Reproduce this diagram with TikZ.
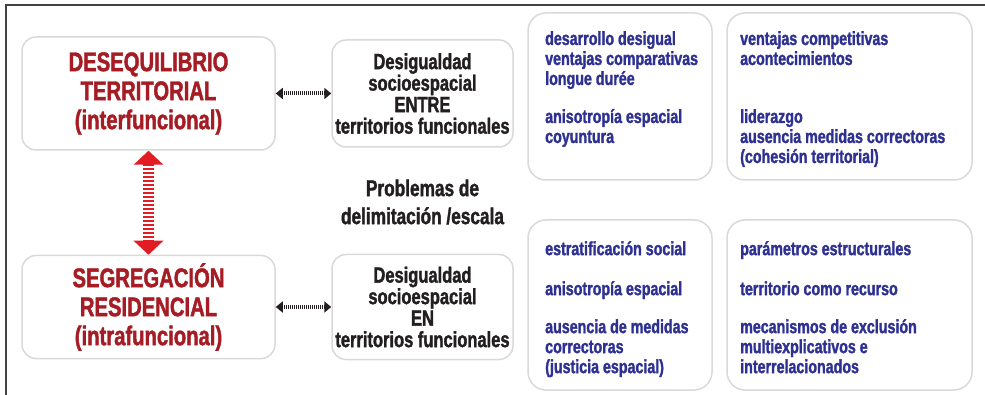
\documentclass[tikz,border=0pt]{standalone}
\usepackage{fontspec}
\setmainfont{Liberation Sans}
\newfontfamily\condbold{Liberation Sans Bold}[FakeStretch=0.75, FakeBold=1.5]
\usetikzlibrary{arrows.meta}
\definecolor{boxgrey}{HTML}{D9D9D9}
\definecolor{darkred}{HTML}{A51C24}
\definecolor{brightred}{HTML}{E31B23}
\definecolor{navy}{HTML}{2E3192}
\definecolor{inkblack}{HTML}{231F20}

\begin{document}
\begin{tikzpicture} [x=1pt, y=-1pt,
            box/.style={draw=boxgrey, line width=1.5pt, rounded corners=14pt, fill=white},
            bigbox/.style={box, minimum width=253pt, align=center, text=darkred,
              font=\condbold\fontsize{27}{29}\selectfont},
            midbox/.style={box, minimum width=181pt, align=center, text=inkblack,
              font=\condbold\fontsize{22}{21.5}\selectfont},
            listbox/.style={box, rounded corners=18pt},
            listtext/.style={anchor=north west, inner sep=0pt, align=left, text=navy,
              font=\condbold\fontsize{19}{20}\selectfont},
            linkarrow/.style={{Triangle[length=7pt,width=11pt]}-{Triangle[length=7pt,width=11pt]},
              line width=4pt, dash pattern=on 1pt off 1pt, draw=inkblack},
            scalearrow/.style={{Triangle[length=14pt,width=29pt]}-{Triangle[length=14pt,width=29pt]},
              line width=11pt, dash pattern=on 2pt off 2pt, draw=brightred}]
            \useasboundingbox (0,0) rectangle (985,395);
            \draw[line width=1.2pt, draw=inkblack!85] (985,5) -- (6,5) -- (6,395);
            % left column
            \node[bigbox, minimum height=113pt] (deseq) at (148.5,93.5) {DESEQUILIBRIO\\TERRITORIAL\\(interfuncional)};
            \node[bigbox, minimum height=103pt] (segreg) at (148.5,307) {SEGREGACIÓN\\RESIDENCIAL\\(intrafuncional)};
            % middle column
            \node[midbox, minimum height=107pt] (entre) at (422.5,93.5) {Desigualdad\\socioespacial\\ENTRE\\territorios funcionales};
            \node[midbox, minimum height=105pt] (en) at (422.5,307) {Desigualdad\\socioespacial\\EN\\territorios funcionales};
            \node[align=center, text=inkblack, font=\condbold\fontsize{23}{28}\selectfont] (escala) at (422.5,202) {Problemas de\\delimitación /escala};
            % right column
            \node[listbox, minimum width=184pt, minimum height=167pt] (ebox) at (620,96.5) {};
            \node[listbox, minimum width=245pt, minimum height=167pt] (fbox) at (849.5,96.5) {};
            \node[listbox, minimum width=184pt, minimum height=170pt] (gbox) at (620,305) {};
            \node[listbox, minimum width=245pt, minimum height=170pt] (hbox) at (849.5,305) {};
            \node[listtext] (etxt) at (545,31) {desarrollo desigual\\ventajas comparativas\\longue durée\\[18pt]anisotropía espacial\\coyuntura};
            \node[listtext] (ftxt) at (740,31) {ventajas competitivas\\acontecimientos\\[38pt]liderazgo\\ausencia medidas correctoras\\(cohesión territorial)};
            \node[listtext] (gtxt) at (545,241) {estratificación social\\[20pt]anisotropía espacial\\[18pt]ausencia de medidas\\correctoras\\(justicia espacial)};
            \node[listtext] (htxt) at (740,241) {parámetros estructurales\\[20pt]territorio como recurso\\[18pt]mecanismos de exclusión\\multiexplicativos e\\interrelacionados};
            % arrows
            \draw[linkarrow] (deseq) -- (entre);
            \draw[linkarrow] (segreg) -- (en);
            \draw[scalearrow] (deseq) -- (segreg);
        \end{tikzpicture}
\end{document}
